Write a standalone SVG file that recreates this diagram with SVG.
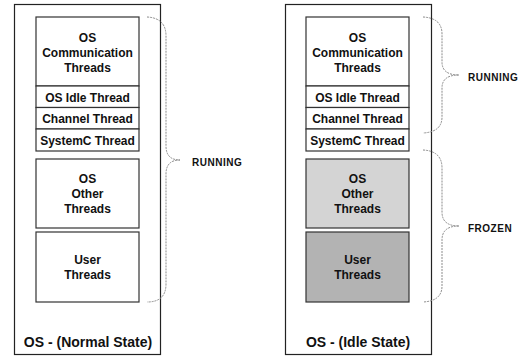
<svg xmlns="http://www.w3.org/2000/svg" width="522" height="358" viewBox="0 0 522 358">
<style>
.outer{fill:#fff;stroke:#222;stroke-width:1.2}
.box{fill:#fff;stroke:#333;stroke-width:1.2}
.lt{fill:#d4d4d4}
.dk{fill:#b3b3b3}
text{font-family:"Liberation Sans",Arial,sans-serif;font-weight:bold;fill:#111;text-anchor:middle}
.t{font-size:12px}
.st{font-size:14px}
.lab{font-size:10px;text-anchor:start;letter-spacing:0.5px}
.brace{fill:none;stroke:#8a8a8a;stroke-width:1;stroke-dasharray:2,1}
</style>
<rect width="522" height="358" fill="#fff"/>
<g id="os-normal">
<rect class="outer" x="14.5" y="4.5" width="146" height="350"/>
<text class="st" x="88" y="347">OS - (Normal State)</text>
</g>
<g id="n-comm"><rect class="box" x="36" y="17" width="103" height="69"/>
<text class="t" x="87.5" y="42">OS</text><text class="t" x="87.5" y="57">Communication</text><text class="t" x="87.5" y="72">Threads</text></g>
<g id="n-idle"><rect class="box" x="36" y="86" width="103" height="21.5"/><text class="t" x="87.5" y="101.5">OS Idle Thread</text></g>
<g id="n-chan"><rect class="box" x="36" y="107.5" width="103" height="21.5"/><text class="t" x="87.5" y="123">Channel Thread</text></g>
<g id="n-sysc"><rect class="box" x="36" y="129" width="103" height="22"/><text class="t" x="87.5" y="144.5">SystemC Thread</text></g>
<g id="n-other"><rect class="box" x="36" y="159" width="103" height="69"/>
<text class="t" x="87.5" y="183">OS</text><text class="t" x="87.5" y="198">Other</text><text class="t" x="87.5" y="213">Threads</text></g>
<g id="n-user"><rect class="box" x="36" y="232" width="103" height="70"/>
<text class="t" x="87.5" y="264">User</text><text class="t" x="87.5" y="279">Threads</text></g>

<g id="os-idle">
<rect class="outer" x="285.5" y="4.5" width="146" height="350"/>
<text class="st" x="358" y="347">OS - (Idle State)</text>
</g>
<g id="i-comm"><rect class="box" x="306" y="17" width="103" height="69"/>
<text class="t" x="357.5" y="42">OS</text><text class="t" x="357.5" y="57">Communication</text><text class="t" x="357.5" y="72">Threads</text></g>
<g id="i-idle"><rect class="box" x="306" y="86" width="103" height="21.5"/><text class="t" x="357.5" y="101.5">OS Idle Thread</text></g>
<g id="i-chan"><rect class="box" x="306" y="107.5" width="103" height="21.5"/><text class="t" x="357.5" y="123">Channel Thread</text></g>
<g id="i-sysc"><rect class="box" x="306" y="129" width="103" height="22"/><text class="t" x="357.5" y="144.5">SystemC Thread</text></g>
<g id="i-other"><rect class="box lt" x="306" y="159" width="103" height="69"/>
<text class="t" x="357.5" y="183">OS</text><text class="t" x="357.5" y="198">Other</text><text class="t" x="357.5" y="213">Threads</text></g>
<g id="i-user"><rect class="box dk" x="306" y="232" width="103" height="70"/>
<text class="t" x="357.5" y="264">User</text><text class="t" x="357.5" y="279">Threads</text></g>

<g id="connectors">
<path class="brace" d="M147,17 Q166,18 166,36 V146 Q166,160 180,160 M180,160 Q166,160 166,174 V284 Q166,302 147,302"/>
<path class="brace" d="M423,17 Q442,18 442,34 V62 Q442,75 459,75 M459,75 Q442,75 442,88 V117 Q442,132 423,133"/>
<path class="brace" d="M423,150 Q442,151 442,168 V212 Q442,226 459,226 M459,226 Q442,226 442,240 V286 Q442,301 423,302"/>
</g>
<g id="labels">
<text class="lab" x="192" y="165.5">RUNNING</text>
<text class="lab" x="468" y="80.5">RUNNING</text>
<text class="lab" x="468" y="231.5">FROZEN</text>
</g>
</svg>
